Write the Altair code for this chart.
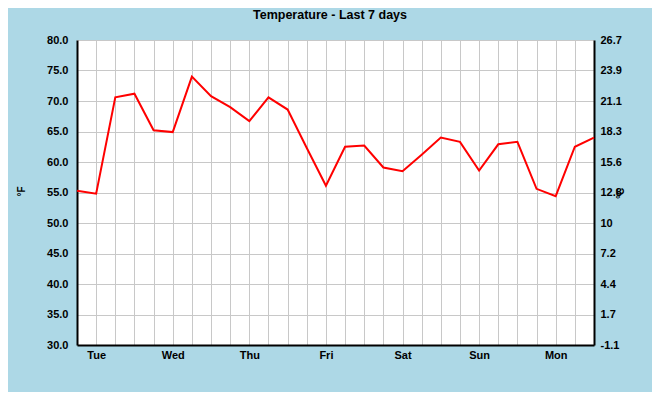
import altair as alt
import pandas as pd

# six-hourly readings over the last 7 days
hours = [0, 6, 12, 18, 24, 30, 36, 42, 48, 54, 60, 66, 72, 78,
         84, 90, 96, 102, 108, 114, 120, 126, 132, 138, 144, 150, 156, 162]
temp_f = [55.3, 54.8, 70.6, 71.2, 65.2, 64.9, 74.0, 70.8, 69.0, 66.7,
          70.6, 68.6, 62.3, 56.1, 62.5, 62.7, 59.1, 58.5, 61.2, 64.0,
          63.3, 58.6, 62.9, 63.3, 55.6, 54.4, 62.5, 64.0]

day_labels = ["Tue", "Wed", "Thu", "Fri", "Sat", "Sun", "Mon"]
day_hours = [6, 30, 54, 78, 102, 126, 150]
f_ticks = [30, 35, 40, 45, 50, 55, 60, 65, 70, 75, 80]
chart_title = "Temperature - Last 7 days"

df = pd.DataFrame({"hour": hours, "temp_f": temp_f})

FONT = "Liberation Sans"
GRID = "#C8C8C8"

hrs = "[" + ",".join(str(h) for h in day_hours) + "]"
names = "[" + ",".join(f"'{d}'" for d in day_labels) + "]"
x_label_expr = f"indexof({hrs}, datum.value) >= 0 ? {names}[indexof({hrs}, datum.value)] : ''"

x_axis = alt.Axis(
    values=hours[1:-1], labelExpr=x_label_expr, title=None,
    grid=True, gridColor=GRID, gridWidth=1, ticks=False,
    domainColor="black", domainWidth=2, labelPadding=4,
    labelFont=FONT, labelFontSize=11, labelFontWeight="bold",
    labelColor="black", labelBaseline="top", labelFlush=False,
)
x_scale = alt.Scale(domain=[0, 162], nice=False, zero=False)
y_scale = alt.Scale(domain=[30, 80], nice=False, zero=False)

line = alt.Chart(df).mark_line(color="#FF0000", strokeWidth=2).encode(
    x=alt.X("hour:Q", scale=x_scale, axis=x_axis),
    y=alt.Y(
        "temp_f:Q",
        scale=y_scale,
        axis=alt.Axis(
            values=f_ticks, format=".1f", title="°F",
            grid=True, gridColor=GRID, gridWidth=1, ticks=False,
            domainColor="black", domainWidth=2, labelPadding=9,
            labelFont=FONT, labelFontSize=11, labelFontWeight="bold",
            labelColor="black", labelFlush=False,
            titleFont=FONT, titleFontSize=10, titleFontWeight="bold",
            titleColor="black", titleAngle=270, titleX=-56, titleY=151,
            titleAlign="center", titleBaseline="middle",
        ),
    ),
)

right = alt.Chart(df).mark_line(opacity=0).encode(
    x=alt.X("hour:Q", scale=x_scale, axis=x_axis),
    y=alt.Y(
        "temp_f:Q",
        scale=y_scale,
        axis=alt.Axis(
            orient="right", values=f_ticks, title="°C",
            labelExpr="toString(round((datum.value - 32) * 5 / 9 * 10) / 10)",
            grid=False, ticks=False,
            domainColor="black", domainWidth=2, labelPadding=6,
            labelFont=FONT, labelFontSize=11, labelFontWeight="bold",
            labelColor="black", labelFlush=False,
            titleFont=FONT, titleFontSize=10, titleFontWeight="bold",
            titleColor="black", titleAngle=270, titleX=26, titleY=153,
            titleAlign="center", titleBaseline="middle",
        ),
    ),
)

# chart title drawn as text above the plot area
title = alt.Chart(pd.DataFrame({"t": [chart_title]})).mark_text(
    font=FONT, fontSize=12.5, fontWeight="bold", color="black",
    align="center", baseline="alphabetic",
).encode(text="t:N", x=alt.value(253), y=alt.value(-21))

chart = alt.layer(line, right, title).resolve_scale(y="independent").properties(
    width=517,
    height=305,
    autosize=alt.AutoSizeParams(type="none"),
    padding={"left": 69, "top": 32, "right": 58, "bottom": 47},
    background="#ADD8E6",
).configure_view(fill="white", stroke=None)

chart.save("out.html", embed_options={"renderer": "svg", "actions": False})
